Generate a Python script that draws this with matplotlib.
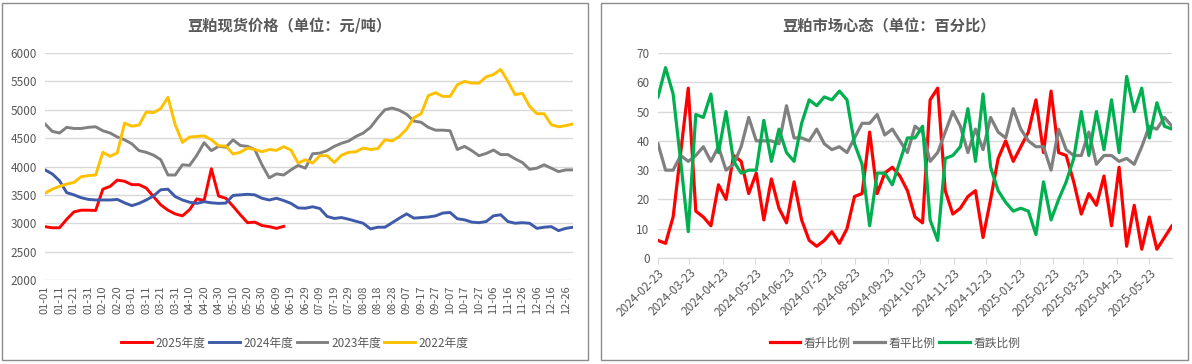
import numpy as np
import pandas as pd
import matplotlib
matplotlib.use("Agg")
import matplotlib.pyplot as plt
import matplotlib.dates as mdates
from matplotlib.patches import Rectangle

plt.rcParams['font.family'] = ['Noto Sans CJK SC', 'DejaVu Sans']

# ---- left chart: spot price, sampled every 5 days over a 366-day calendar ----
day_labels = pd.date_range('2024-01-01', '2024-12-31').strftime('%m-%d').tolist()
step = 5

price_2025 = [2940, 2920, 2920, 3070, 3200, 3230, 3230, 3225, 3600, 3650, 3760, 3740,
              3680, 3680, 3620, 3470, 3325, 3230, 3165, 3130, 3240, 3430, 3400, 3960,
              3480, 3440, 3300, 3150, 3010, 3020, 2960, 2940, 2910, 2945]
price_2024 = [3940, 3870, 3750, 3540, 3500, 3450, 3420, 3410, 3410, 3410, 3420, 3360,
              3310, 3350, 3410, 3480, 3590, 3600, 3470, 3410, 3370, 3350, 3380, 3360,
              3350, 3355, 3490, 3500, 3510, 3500, 3440, 3410, 3440, 3400, 3350, 3270,
              3265, 3290, 3260, 3120, 3085, 3100, 3070, 3035, 3000, 2900, 2930, 2930,
              3010, 3090, 3165, 3090, 3100, 3110, 3130, 3180, 3190, 3080, 3060, 3020,
              3010, 3030, 3130, 3150, 3030, 3000, 3010, 3000, 2910, 2930, 2940, 2870,
              2910, 2930]
price_2023 = [4750, 4620, 4590, 4690, 4670, 4670, 4690, 4700, 4630, 4590, 4520, 4470,
              4400, 4280, 4250, 4200, 4120, 3850, 3850, 4030, 4020, 4200, 4420, 4280,
              4355, 4340, 4470, 4370, 4355, 4300, 4030, 3800, 3870, 3850, 3940, 4020,
              3970, 4225, 4235, 4280, 4355, 4410, 4450, 4530, 4590, 4690, 4855, 5000,
              5030, 4990, 4920, 4800, 4780, 4690, 4640, 4640, 4630, 4300, 4355, 4280,
              4190, 4230, 4290, 4210, 4210, 4135, 4070, 3950, 3970, 4030, 3970, 3910,
              3940, 3940]
price_2022 = [3530, 3600, 3650, 3690, 3720, 3820, 3840, 3850, 4250, 4180, 4240, 4765,
              4710, 4730, 4960, 4950, 5020, 5220, 4735, 4425, 4520, 4530, 4540, 4470,
              4365, 4360, 4220, 4250, 4325, 4300, 4260, 4300, 4285, 4350, 4290, 4060,
              4120, 4060, 4190, 4190, 4070, 4200, 4250, 4260, 4325, 4300, 4315, 4470,
              4450, 4530, 4660, 4860, 4930, 5250, 5300, 5235, 5235, 5440, 5500, 5470,
              5470, 5580, 5620, 5710, 5500, 5265, 5290, 5060, 4930, 4930, 4735, 4700,
              4720, 4750]

price_series = [('2025年度', price_2025, '#FF0000'),
                ('2024年度', price_2024, '#3F5AA8'),
                ('2023年度', price_2023, '#808080'),
                ('2022年度', price_2022, '#FFC000')]

# ---- right chart: weekly market sentiment ----
sentiment_dates = pd.date_range('2024-02-23', periods=69, freq='7D')
bull_pct = [6, 5, 14, 36, 58, 16, 14, 11, 25, 20, 35, 33, 22, 29, 13, 27, 17,
            12, 26, 13, 6, 4, 6, 9, 5, 10, 21, 22, 43, 22, 29, 31, 28, 23,
            14, 12, 54, 58, 23, 15, 17, 21, 23, 7, 20, 34, 40, 33, 38, 43, 54,
            36, 57, 36, 35, 26, 15, 22, 18, 28, 11, 31, 4, 18, 3, 14, 3, 7, 11]
flat_pct = [39, 30, 30, 35, 33, 35, 38, 33, 38, 30, 32, 38, 48, 40, 40, 40, 39,
            52, 41, 41, 40, 44, 39, 37, 38, 36, 41, 46, 46, 49, 42, 44, 40, 36,
            45, 43, 33, 36, 43, 50, 45, 36, 44, 37, 48, 43, 41, 51, 44, 40, 38,
            38, 30, 44, 37, 35, 35, 43, 32, 35, 35, 33, 34, 32, 38, 45, 44, 48, 45]
bear_pct = [55, 65, 56, 33, 9, 49, 48, 56, 36, 50, 33, 29, 30, 30, 47, 33, 44,
            36, 33, 46, 54, 52, 55, 54, 57, 54, 39, 32, 11, 29, 29, 25, 33, 41,
            41, 45, 13, 6, 34, 35, 38, 51, 33, 56, 31, 23, 19, 16, 17, 16, 8,
            26, 13, 20, 26, 34, 50, 35, 50, 37, 54, 36, 62, 50, 58, 41, 53, 45, 44]

sentiment_series = [('看升比例', bull_pct, '#FF0000'),
                    ('看平比例', flat_pct, '#808080'),
                    ('看跌比例', bear_pct, '#00B050')]

text_color = '#595959'
grid_color = '#D9D9D9'

W, H = 1192, 364
fig = plt.figure(figsize=(W / 100, H / 100), dpi=100)
fig.patch.set_facecolor('white')

# panel borders
for x0, x1 in [(2, 588), (601, 1188)]:
    fig.patches.append(Rectangle((x0 / W, 1 - 360 / H), (x1 - x0) / W, (360 - 3) / H,
                                 transform=fig.transFigure, fill=False,
                                 edgecolor='#8C8C8C', linewidth=1.0))


def style_axes(ax):
    for side in ['top', 'right', 'left']:
        ax.spines[side].set_visible(False)
    ax.spines['bottom'].set_color(grid_color)
    ax.grid(axis='y', color=grid_color, linewidth=1.0)
    ax.set_axisbelow(True)
    ax.tick_params(axis='y', length=0, labelsize=8.5, labelcolor=text_color, pad=6)


# left chart
ax1 = fig.add_axes([45 / W, 1 - 280 / H, 528 / W, 227 / H])
style_axes(ax1)
for name, vals, color in price_series:
    xs = np.arange(len(vals)) * step
    ax1.plot(xs, vals, color=color, linewidth=2.1, label=name)
ax1.set_ylim(2000, 6000)
ax1.set_yticks(np.arange(2000, 6001, 500))
ax1.set_xlim(0, len(day_labels) - 1)
tick_idx = np.arange(0, len(day_labels), 10)
ax1.set_xticks(tick_idx)
ax1.set_xticklabels([day_labels[i] for i in tick_idx], rotation=90,
                    fontsize=8, color=text_color)
ax1.tick_params(axis='x', length=0, pad=4)
ax1.spines['bottom'].set_visible(False)
fig.text(289 / W, 1 - 26 / H, '豆粕现货价格（单位：元/吨）', ha='center', va='center',
         fontsize=11, fontweight='bold', color=text_color)
ax1.legend(loc='center', bbox_to_anchor=((295 - 45) / 528, (280 - 343) / 227),
           ncol=4, frameon=False, fontsize=8.5, handlelength=2.6, handletextpad=0.3,
           columnspacing=0.3, labelcolor=text_color)

# right chart
ax2 = fig.add_axes([658 / W, 1 - 258 / H, 514 / W, 205 / H])
style_axes(ax2)
for name, vals, color in sentiment_series:
    ax2.plot(sentiment_dates, vals, color=color, linewidth=2.3, label=name)
ax2.set_ylim(0, 70)
ax2.set_yticks(np.arange(0, 71, 10))
ax2.set_xlim(sentiment_dates[0], sentiment_dates[-1])
ax2.xaxis.set_major_locator(mdates.MonthLocator(bymonthday=23))
ax2.xaxis.set_major_formatter(mdates.DateFormatter('%Y-%m-%d'))
ax2.tick_params(axis='x', length=4, color=grid_color, labelsize=8.5,
                labelcolor=text_color, pad=2)
for lbl in ax2.get_xticklabels():
    lbl.set_rotation(45)
    lbl.set_ha('right')
    lbl.set_rotation_mode('anchor')
fig.text(889 / W, 1 - 26 / H, '豆粕市场心态（单位：百分比）', ha='center', va='center',
         fontsize=11, fontweight='bold', color=text_color)
ax2.legend(loc='center', bbox_to_anchor=((895 - 658) / 514, (258 - 343) / 205),
           ncol=3, frameon=False, fontsize=8.5, handlelength=2.6, handletextpad=0.3,
           columnspacing=0.3, labelcolor=text_color)

fig.savefig('out.png', dpi=100)
